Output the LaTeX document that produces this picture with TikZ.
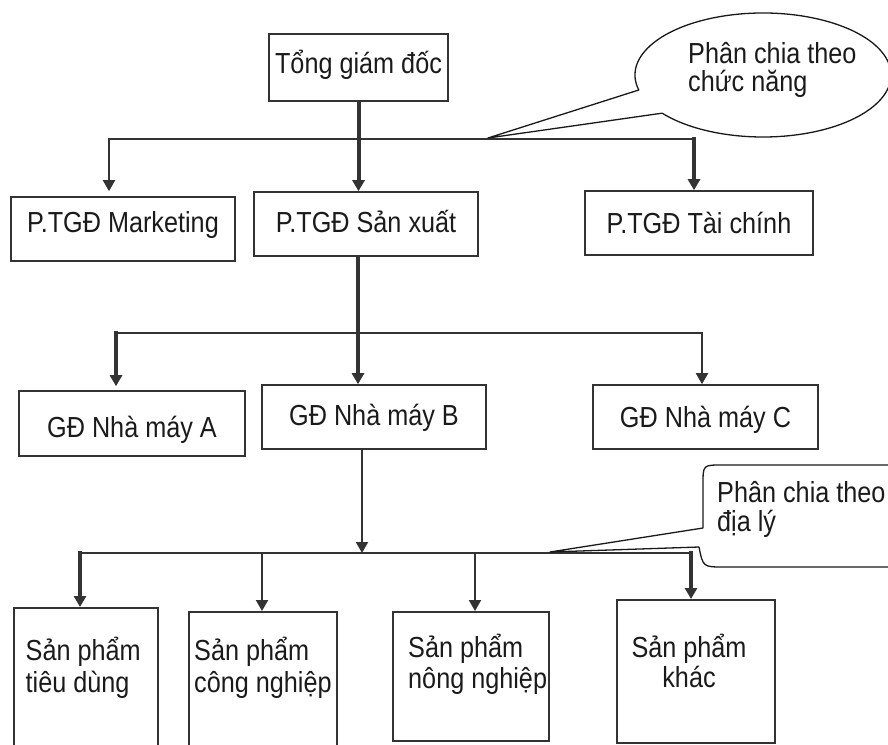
\documentclass[tikz,border=0pt]{standalone}
\usepackage{fontspec}
\setmainfont{Liberation Sans}[FakeStretch=0.87]
\usetikzlibrary{arrows.meta,calc}
\definecolor{ink}{HTML}{333333}
\definecolor{txt}{HTML}{1A1A1A}
\begin{document}
\begin{tikzpicture}[x=1pt,y=1pt,
  every node/.style={font=\fontsize{29}{31}\selectfont, text=txt},
  box/.style={draw=ink, line width=1.6pt, inner sep=0pt, text height=25pt, text depth=4.2pt},
  thinc/.style={draw=ink, line width=2pt, line cap=rect},
  thickc/.style={draw=ink, line width=4pt, line cap=rect},
  tip/.style={-{Triangle[length=11pt,width=12pt]}},
  bubble/.style={draw=black!90, line width=1.3pt, line join=round},
  lbl/.style={anchor=base west, inner sep=0pt},
  clbl/.style={anchor=base, inner sep=0pt}]
\useasboundingbox (0,0) rectangle (888,-744);
\clip (0,0) rectangle (888,-744);

% level 0 and 1
\node[box, minimum width=179pt, minimum height=67pt, text depth=12.2pt] (ceo) at (358.5,-67.5) {Tổng giám đốc};
\node[box, minimum width=224pt, minimum height=64pt, text depth=18.2pt] (mkt) at (123,-229) {P.TGĐ Marketing};
\node[box, minimum width=224pt, minimum height=64pt, text depth=8.2pt] (sx) at (366,-224) {P.TGĐ Sản xuất};
\node[box, minimum width=228pt, minimum height=64pt] (tc) at (699,-223) {P.TGĐ Tài chính};

% level 2
\node[box, minimum width=226pt, minimum height=65pt, text height=33pt] (nma) at (132,-423.5) {GĐ Nhà máy A};
\node[box, minimum width=224pt, minimum height=64pt, text depth=7.2pt] (nmb) at (374,-417) {GĐ Nhà máy B};
\node[box, minimum width=225pt, minimum height=64pt] (nmc) at (705.5,-417) {GĐ Nhà máy C};

% level 3 (tall product boxes)
\node[box, minimum width=144pt, minimum height=160pt, anchor=north west] (sp1) at (13,-607) {};
\node[box, minimum width=148pt, minimum height=160pt, anchor=north west] (sp2) at (188,-611) {};
\node[box, minimum width=156pt, minimum height=129pt, anchor=north west] (sp3) at (392,-611) {};
\node[box, minimum width=158pt, minimum height=143pt, anchor=north west] (sp4) at (616,-599) {};

\node[lbl] (sp1a) at (25.5,-660) {Sản phẩm};
\node[lbl] (sp1b) at (25.5,-692) {tiêu dùng};
\node[lbl] (sp2a) at (194,-660) {Sản phẩm};
\node[lbl] (sp2b) at (194,-692) {công nghiệp};
\node[lbl] (sp3a) at (408,-657) {Sản phẩm};
\node[lbl] (sp3b) at (408,-688) {nông nghiệp};
\node[clbl] (sp4a) at (689,-657) {Sản phẩm};
\node[clbl] (sp4b) at (689,-687) {khác};

% branch junctions
\coordinate (j1L) at (109,-139);
\coordinate (j1R) at (694,-139);
\coordinate (j2) at (358,-333);
\coordinate (j2L) at (116,-333);
\coordinate (j2R) at (702,-333);
\coordinate (j3) at (362,-553);
\coordinate (j3L) at (80,-553);
\coordinate (j3a) at (262,-553);
\coordinate (j3b) at (475,-553);
\coordinate (j3R) at (691,-553);

% connectors: director level
\draw[thinc] (j1L) -- (j1R);
\draw[thickc, tip] (ceo.south) -- (ceo.south |- sx.north);
\draw[thinc, tip, shorten >=5pt] (j1L) -- (j1L |- mkt.north);
\draw[thickc, tip] (j1R) -- (j1R |- tc.north);

% connectors: factory level
\draw[thinc] (j2L) -- (j2R);
\draw[thickc, tip] (sx.south -| j2) -- (nmb.north -| j2);
\draw[thickc, tip, shorten >=4pt] (j2L) -- (j2L |- nma.north);
\draw[thinc, tip] (j2R) -- (j2R |- nmc.north);

% connectors: product level
\draw[thinc, tip] (nmb.south -| j3) -- (j3);
\draw[thinc] (j3L) -- (j3R);
\draw[thickc, tip] (j3L) -- (j3L |- sp1.north);
\draw[thinc, tip] (j3a) -- (j3a |- sp2.north);
\draw[thinc, tip] (j3b) -- (j3b |- sp3.north);
\draw[thickc, tip] (j3R) -- (j3R |- sp4.north);

% callout: functional split
\coordinate (c1) at (763,-75);
\coordinate (tail1) at (488,-138);
\draw[bubble] (tail1) -- ($(c1)+(194:128 and 62)$)
  arc[start angle=194, end angle=-142, x radius=128, y radius=62] -- cycle;
\node[lbl] (n1a) at (688,-63) {Phân chia theo};
\node[lbl] (n1b) at (688,-91) {chức năng};

% callout: geographic split
\coordinate (tail2) at (550,-552);
\draw[bubble] (tail2) -- (703,-528) -- (703,-484) .. controls (703,-465) .. (722,-465)
  -- (900,-465) -- (900,-567) -- (724,-567) .. controls (703,-567) .. (699,-547) -- cycle;
\node[lbl] (n2a) at (717,-502) {Phân chia theo};
\node[lbl] (n2b) at (717,-531) {địa lý};
\end{tikzpicture}
\end{document}
